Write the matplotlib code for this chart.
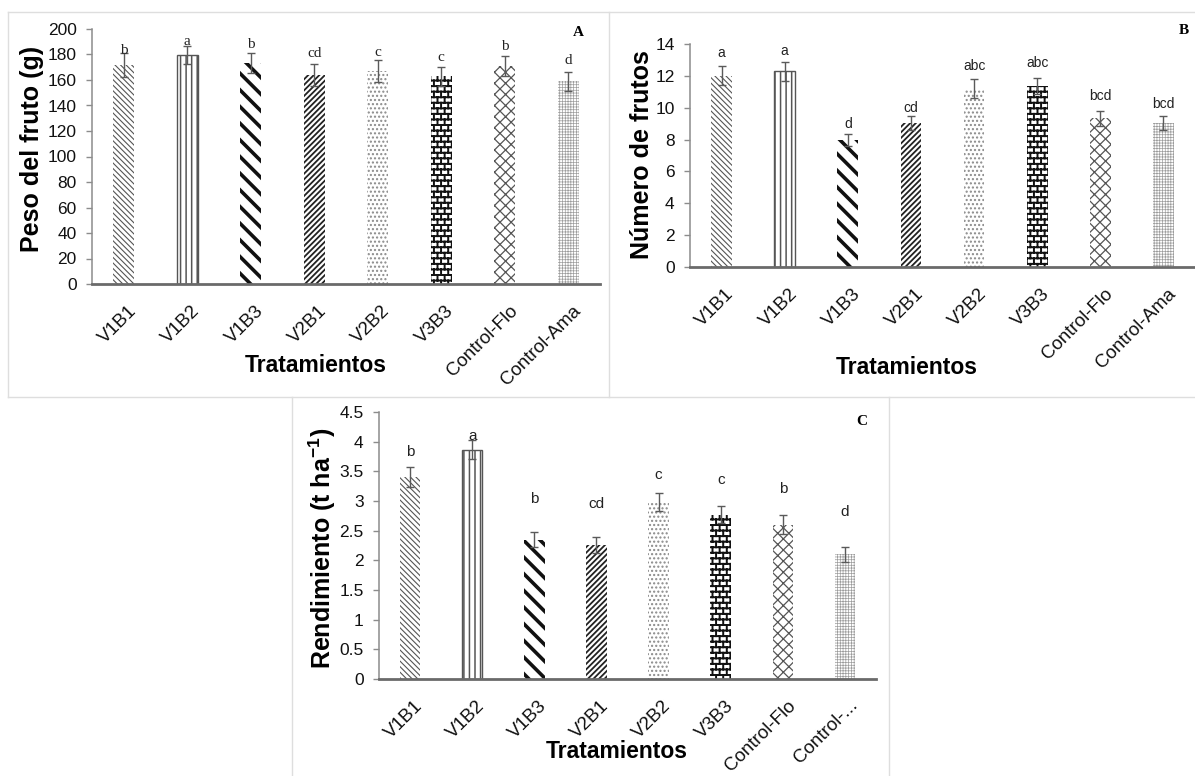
import warnings
import matplotlib
matplotlib.use('Agg')
import matplotlib.pyplot as plt
import matplotlib.hatch as mhatch
import matplotlib.transforms as mtrans
from matplotlib.path import Path
from matplotlib.ticker import FuncFormatter, MultipleLocator
from matplotlib.lines import Line2D

warnings.filterwarnings('ignore', message='.*hatch must consist.*')

# ---------------- data ----------------
categories = ['V1B1', 'V1B2', 'V1B3', 'V2B1', 'V2B2', 'V3B3', 'Control-Flo', 'Control-Ama']
categories_C = ['V1B1', 'V1B2', 'V1B3', 'V2B1', 'V2B2', 'V3B3', 'Control-Flo', 'Control-...']

peso = [171.5, 179.5, 173.5, 164, 167, 163, 171, 159]
peso_err = [9.5, 7, 8, 8.5, 8.5, 7.5, 8, 7.5]
peso_letters = ['b', 'a', 'b', 'cd', 'c', 'c', 'b', 'd']
peso_letter_y = [183.5, 190, 187.5, 181, 181.4, 178, 186, 175]

frutos = [12.0, 12.3, 8.0, 9.03, 11.2, 11.35, 9.34, 9.03]
frutos_err = [0.6, 0.6, 0.38, 0.46, 0.6, 0.5, 0.46, 0.46]
frutos_letters = ['a', 'a', 'd', 'cd', 'abc', 'abc', 'bcd', 'bcd']
frutos_letter_y = [13.43, 13.53, 8.98, 10.0, 12.59, 12.8, 10.76, 10.22]

rend = [3.40, 3.86, 2.35, 2.26, 2.98, 2.77, 2.60, 2.10]
rend_err = [0.17, 0.16, 0.12, 0.13, 0.15, 0.14, 0.16, 0.13]
rend_letters = ['b', 'a', 'b', 'cd', 'c', 'c', 'b', 'd']
rend_letter_y = [3.82, 4.10, 3.04, 2.95, 3.43, 3.36, 3.21, 2.81]


# ---------------- custom brick hatch ----------------
class BrickHatch(mhatch.HatchPatternBase):
    def __init__(self, hatch, density):
        n = hatch.count('B')
        self.rows = 18 * n
        self.cols = 14 * n
        if n:
            self.num_vertices = self.rows * 2 + (self.rows + 1) * self.cols * 2
        else:
            self.num_vertices = 0

    def set_vertices_and_codes(self, vertices, codes):
        i = 0
        r, c = self.rows, self.cols
        for k in range(r):
            y = (k + 0.5) / r
            vertices[i] = (0.0, y); vertices[i + 1] = (1.0, y)
            codes[i] = Path.MOVETO; codes[i + 1] = Path.LINETO
            i += 2
        for k in range(r + 1):
            y0 = max(0.0, (k - 0.5) / r)
            y1 = min(1.0, (k + 0.5) / r)
            for j in range(c):
                x = (j + 0.25 + 0.5 * (k % 2)) / c
                vertices[i] = (x, y0); vertices[i + 1] = (x, y1)
                codes[i] = Path.MOVETO; codes[i + 1] = Path.LINETO
                i += 2


mhatch._hatch_types.append(BrickHatch)

# hatch, colour, hatch linewidth per category
styles = [
    ('\\\\\\\\\\\\', '#555555', 0.8),
    ('|||', '#555555', 1.1),
    ('\\\\', '#111111', 2.6),
    ('//////', '#222222', 1.3),
    ('....', '#8a8a8a', 1.0),
    ('B', '#111111', 1.4),
    ('xxx', '#555555', 0.9),
    ('++++++', '#9c9c9c', 0.5),
]

plt.rcParams['font.family'] = ['Liberation Sans', 'DejaVu Sans']
plt.rcParams['mathtext.fontset'] = 'custom'
plt.rcParams['mathtext.rm'] = 'Liberation Sans'
plt.rcParams['mathtext.bf'] = 'Liberation Sans:bold'

W, H = 1195, 776
fig = plt.figure(figsize=(W / 100, H / 100), dpi=100)
fig.patch.set_facecolor('white')


def fx(px):
    return px / W


def fy(py):
    return 1 - py / H


def rect(l, t, r, b):
    return [fx(l), fy(b), fx(r) - fx(l), fy(t) - fy(b)]


def panel(axrect, cats, vals, errs, letters, letter_y, ymax, step, ylabel,
          ylab_c, xlab_c, tag, tag_c, letter_font, letter_size):
    ax = fig.add_axes(axrect)
    x = list(range(len(cats)))
    bars = ax.bar(x, vals, width=0.33, color='white', linewidth=0, zorder=2)
    for i, (p, (h, col, lw)) in enumerate(zip(bars, styles)):
        p.set_hatch(h)
        p.set_edgecolor(col)
        if hasattr(p, 'set_hatch_linewidth'):
            p.set_hatch_linewidth(lw)
        if i == 1:
            p.set_linewidth(1.0)
    ax.errorbar(x, vals, yerr=errs, fmt='none', ecolor='#5a5a5a',
                elinewidth=1, capsize=3, capthick=1, zorder=3)
    for xi, lt, ly in zip(x, letters, letter_y):
        ax.text(xi, ly, lt, ha='center', va='center', fontsize=letter_size,
                family=letter_font, color='#222222', zorder=4)
    ax.set_xlim(-0.5, len(cats) - 0.5)
    ax.set_ylim(0, ymax)
    ax.yaxis.set_major_locator(MultipleLocator(step))
    ax.yaxis.set_major_formatter(FuncFormatter(lambda v, p: f'{v:g}'))
    ax.spines['top'].set_visible(False)
    ax.spines['right'].set_visible(False)
    ax.spines['left'].set_color('#8c8c8c')
    ax.spines['left'].set_linewidth(1.1)
    ax.spines['bottom'].set_color('#6a6a6a')
    ax.spines['bottom'].set_linewidth(2)
    ax.spines['bottom'].set_zorder(5)
    ax.tick_params(axis='y', direction='out', length=4, width=1, color='#8c8c8c',
                   labelsize=12.5, pad=7, labelcolor='#111111')
    ax.tick_params(axis='x', length=0, pad=13, labelsize=13.5, labelcolor='#111111')
    ax.set_xticks(x)
    ax.set_xticklabels(cats, rotation=45, ha='right', va='top', rotation_mode='anchor')
    off = mtrans.ScaledTranslation(4 / 100, 0, fig.dpi_scale_trans)
    for lbl in ax.get_xticklabels():
        lbl.set_transform(lbl.get_transform() + off)
    ax.set_ylabel(ylabel, fontsize=18, fontweight='bold', va='center', ha='center')
    ax.yaxis.set_label_coords(fx(ylab_c[0]), fy(ylab_c[1]), transform=fig.transFigure)
    ax.set_xlabel('Tratamientos', fontsize=16.5, fontweight='bold', va='center', ha='center')
    ax.xaxis.set_label_coords(fx(xlab_c[0]), fy(xlab_c[1]), transform=fig.transFigure)
    fig.text(fx(tag_c[0]), fy(tag_c[1]), tag, family='Liberation Serif',
             fontweight='bold', fontsize=11, ha='center', va='center')
    ax.patch.set_alpha(0)
    return ax


panel(rect(92, 29, 600, 284), categories, peso, peso_err, peso_letters, peso_letter_y,
      200, 20, 'Peso del fruto (g)', (32, 149), (316, 365), 'A', (578, 33),
      'Liberation Serif', 11)
panel(rect(690, 44, 1195, 267), categories, frutos, frutos_err, frutos_letters, frutos_letter_y,
      14, 2, 'Número de frutos', (642, 155), (907, 367), 'B', (1184, 30),
      'Liberation Sans', 10)
panel(rect(379, 412, 876, 679), categories_C, rend, rend_err, rend_letters, rend_letter_y,
      4.5, 0.5, r'Rendimiento (t ha$^{\mathbf{-1}}$)', (322, 548), (617, 752), 'C', (862, 422),
      'Liberation Sans', 11)

# panel frames
frame_col = '#dedede'
segments = [
    ((8, 12), (1195, 12)),
    ((8, 12), (8, 397)),
    ((609, 12), (609, 397)),
    ((8, 397), (1195, 397)),
    ((292, 397), (292, 776)),
    ((889, 397), (889, 776)),
]
for (x0, y0), (x1, y1) in segments:
    fig.add_artist(Line2D([fx(x0), fx(x1)], [fy(y0), fy(y1)], transform=fig.transFigure,
                          color=frame_col, lw=1, zorder=0))

fig.savefig('out.png', dpi=100, facecolor='white')
